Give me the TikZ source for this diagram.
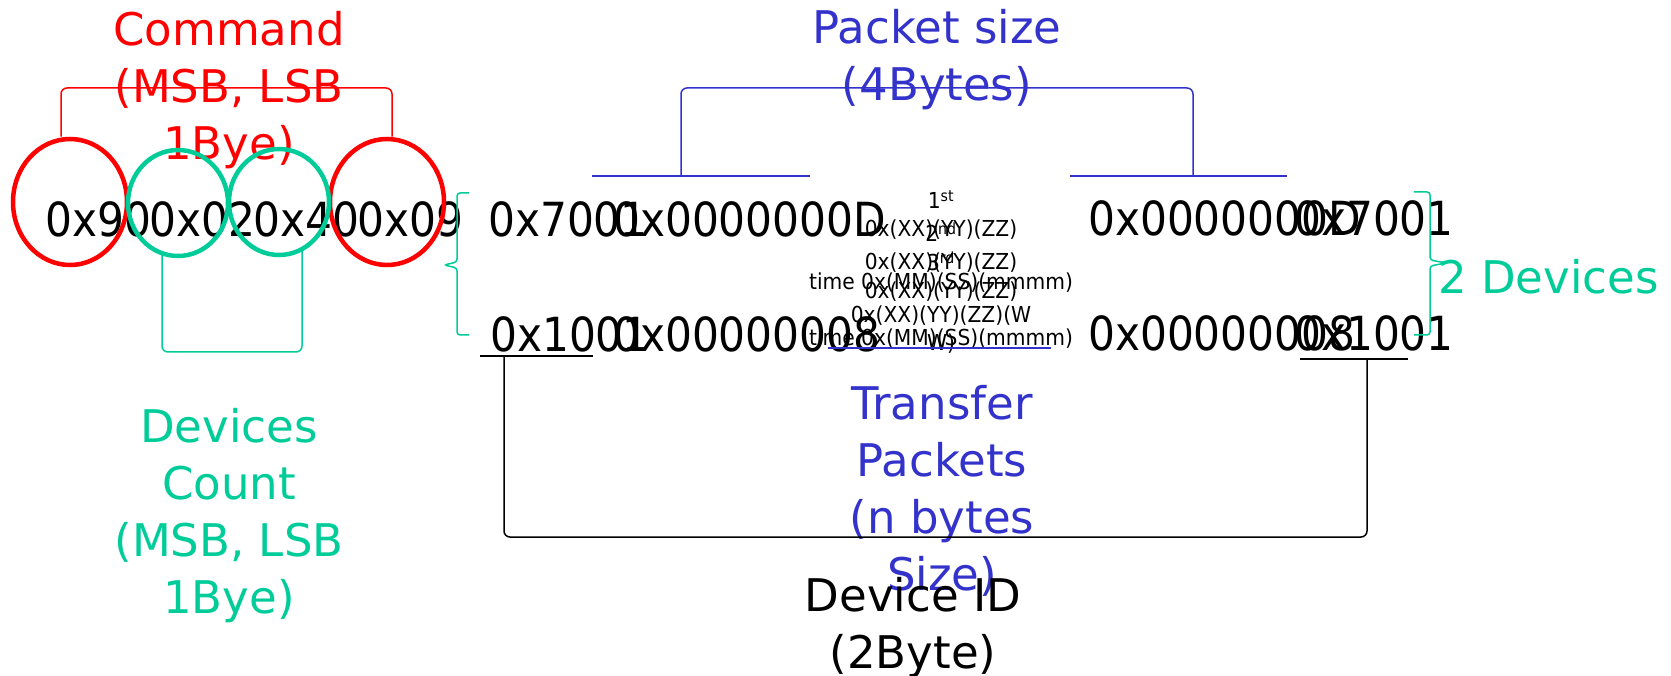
\documentclass[tikz,border=0pt]{standalone}
\usepackage{fontspec}
\setmainfont{DejaVu Sans}
\newfontfamily\hexfont[FakeStretch=0.9]{DejaVu Sans}
\newfontfamily\smallfont[FakeStretch=0.92]{DejaVu Sans}
\usetikzlibrary{shapes.geometric}
\definecolor{cred}{RGB}{255,0,0}
\definecolor{cgreen}{RGB}{0,204,153}
\definecolor{cblue}{RGB}{51,51,204}
\tikzset{
  big/.style={font=\fontsize{45}{57}\selectfont, inner sep=0pt, align=center, anchor=base},
  hex/.style={font=\hexfont\fontsize{47}{57}\selectfont, inner sep=0pt, anchor=base west},
  small/.style={font=\smallfont\fontsize{22}{28}\selectfont, inner sep=0pt, align=center, anchor=base},
  ring/.style={ellipse, draw, line width=4.5pt, inner sep=0pt},
  bigring/.style={ring, draw=cred, minimum width=114pt, minimum height=126pt},
  greenring/.style={ring, draw=cgreen, minimum width=100pt, minimum height=106pt},
  thinline/.style={line width=1.5pt},
  bracket/.style={thinline, rounded corners=6pt},
}
\begin{document}
\begin{tikzpicture}[x=1pt,y=-1pt]
\useasboundingbox (0,0) rectangle (1671,676);

% labels (anchor base = baseline of the last line)
\node[big, text=cred] (cmd) at (229,160) {Command\\(MSB, LSB\\1Bye)};
\node[big, text=cblue] (psz) at (937,101) {Packet size\\(4Bytes)};
\node[big, text=cgreen] (dcnt) at (229,613) {Devices\\Count\\(MSB, LSB\\1Bye)};
\node[big, text=cblue] (tp) at (942,590) {Transfer\\Packets\\(n bytes\\Size)};
\node[big] (did) at (913,668) {Device ID\\(2Byte)};
\node[big, text=cgreen, anchor=base west] (twodev) at (1438,294) {2 Devices};

% hex values
\node[hex] (h1) at (45,237) {0x90};
\node[hex] (h2) at (149,237) {0x02};
\node[hex] (h3) at (253,237) {0x40};
\node[hex] (h4) at (357,237) {0x09};
\node[hex] (a1) at (488,237) {0x7001};
\node[hex] (a2) at (613,237) {0x0000000D};
\node[hex] (a3) at (1088,236) {0x0000000D};
\node[hex, anchor=base east] (a4) at (1454,236) {0x7001};
\node[hex] (b1) at (490,352) {0x1001};
\node[hex] (b2) at (613,352) {0x00000008};
\node[hex] (b3) at (1088,351) {0x00000008};
\node[hex, anchor=base east] (b4) at (1454,351) {0x1001};

% small packet texts
\node[small] (s1) at (941,237) {1\textsuperscript{st}\\0x(XX)(YY)(ZZ)};
\node[small] (s2) at (941,270) {2\textsuperscript{nd}\\0x(XX)(YY)(ZZ)};
\node[small] (s3) at (941,299) {3\textsuperscript{rd}\\0x(XX)(YY)(ZZ)};
\node[small] (s4) at (941,290) {time 0x(MM)(SS)(mmmm)};
\node[small] (s5) at (941,350) {0x(XX)(YY)(ZZ)(W\\W)};
\node[small] (s6) at (941,345) {time 0x(MM)(SS)(mmmm)};

% circles
\node[bigring] (c1) at (70,202) {};
\node[bigring] (c4) at (387,202) {};
\node[greenring] (c2) at (178,203) {};
\node[greenring] (c3) at (279,202) {};

% command bracket
\coordinate (cmdbar) at (229,88);
\draw[cred, bracket] ([xshift=-9pt]c1.north) |- (cmdbar) -| ([xshift=5pt]c4.north);

% devices count bracket
\coordinate (dcbar) at (232,352);
\draw[cgreen, bracket] ([xshift=-16pt,yshift=3pt]c2.south) |- (dcbar) -| ([xshift=23pt,yshift=6pt]c3.south);

% packet size bracket
\coordinate (pl1) at (592,176);
\coordinate (pl2) at (810,176);
\coordinate (pr1) at (1070,176);
\coordinate (pr2) at (1287,176);
\coordinate (plk) at (681,176);
\coordinate (prk) at (1193,176);
\coordinate (pbar) at (937,88);
\draw[cblue, thinline] (pl1) -- (pl2);
\draw[cblue, thinline] (pr1) -- (pr2);
\draw[cblue, bracket] (plk) |- (pbar) -| (prk);

% transfer packets underline
\coordinate (tu1) at (828,348);
\coordinate (tu2) at (1051,348);
\draw[cblue, thinline] (tu1) -- (tu2);

% device id bracket
\coordinate (ul1) at (480,356);
\coordinate (ul2) at (593,356);
\coordinate (ur1) at (1300,359);
\coordinate (ur2) at (1408,359);
\coordinate (dl) at (504,356);
\coordinate (dr) at (1367,359);
\coordinate (dbar) at (935,537);
\draw[thinline] (ul1) -- (ul2);
\draw[thinline] (ur1) -- (ur2);
\draw[bracket] (dl) |- (dbar) -| (dr);

% green braces
\coordinate (lb1) at (469,193);
\coordinate (lb2) at (457,262);
\coordinate (lb3) at (444,265);
\coordinate (lb4) at (457,268);
\coordinate (lb5) at (469,335);
\draw[cgreen, thinline, rounded corners=3pt] (lb1) -| (lb2) -- (lb3) -- (lb4) |- (lb5);
\coordinate (rb1) at (1414,192);
\coordinate (rb2) at (1430,260);
\coordinate (rb3) at (1446,263);
\coordinate (rb4) at (1430,266);
\coordinate (rb5) at (1414,335);
\draw[cgreen, thinline, rounded corners=3pt] (rb1) -| (rb2) -- (rb3) -- (rb4) |- (rb5);
\end{tikzpicture}
\end{document}
